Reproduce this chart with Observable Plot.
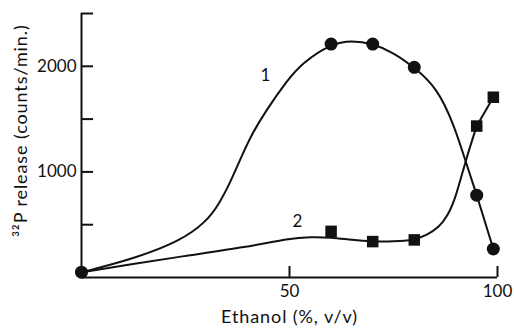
<!DOCTYPE html>
<html>
<head>
<meta charset="utf-8">
<script src="https://cdn.jsdelivr.net/npm/d3@7"></script>
<script src="https://cdn.jsdelivr.net/npm/@observablehq/plot@0.6"></script>
<style>
  html, body { margin: 0; padding: 0; background: #fff; }
  #chart svg { display: block; }
</style>
</head>
<body>
<div id="chart"></div>
<script>
// Measured points (ethanol %, counts/min)
const circleX = [0, 60, 70, 80, 95, 99];
const circleY = [50, 2210, 2210, 1990, 780, 270];
const squareX = [60, 70, 80, 95, 99];
const squareY = [437, 340, 356, 1434, 1707];

// Hand-drawn smooth curves
const curve1X = [0, 12, 24, 30, 33, 36, 38.5, 41, 44, 49.5, 53, 60, 65, 70, 75, 80, 85.5, 89.5, 92.3, 95];
const curve1Y = [50, 170, 349, 530, 690, 920, 1150, 1360, 1560, 1870, 2030, 2215, 2245, 2215, 2130, 1990, 1795, 1450, 1104, 780];
const tail1X = [95, 99];
const tail1Y = [780, 270];
const curve2X = [0, 12, 24, 40, 50, 55, 60, 65, 70, 75, 80, 83, 86, 88, 90, 92.3, 95];
const curve2Y = [50, 125, 200, 290, 370, 385, 380, 355, 340, 340, 356, 400, 480, 580, 760, 1104, 1434];
const tail2X = [95, 99];
const tail2Y = [1434, 1707];

const xTicks = [50, 100];
const yTicks = [500, 1000, 1500, 2000, 2500];
const xTickLabels = [50, 100];
const yTickLabels = [1000, 2000];
const curveLabels = ["1", "2"];
const curveLabelX = [44.2, 51.9];
const curveLabelY = [1910, 530];

const xLabel = "Ethanol (%, v/v)";
const yLabel = "³²P release (counts/min.)";
const yLabelAt = 1390;

const pts = (xs, ys) => xs.map((x, i) => ({x, y: ys[i]}));
const font = "Lato, 'Open Sans', sans-serif";

const chart = Plot.plot({
  width: 514,
  height: 334,
  marginLeft: 81,
  marginRight: 17,
  marginTop: 13,
  marginBottom: 57,
  style: {fontFamily: font, fontSize: "17px", color: "#111", background: "#fff"},
  x: {domain: [0, 100]},
  y: {domain: [0, 2500]},
  marks: [
    Plot.axisX({ticks: xTickLabels, tickFormat: d => String(d), tickSize: 0, tickPadding: 7, label: null, fontSize: 17}),
    Plot.axisY({ticks: yTickLabels, tickFormat: d => String(d), tickSize: 0, tickPadding: 5, label: null, fontSize: 17}),
    Plot.ruleY([0], {stroke: "#111", strokeWidth: 2}),
    Plot.ruleX([0], {stroke: "#111", strokeWidth: 2}),
    Plot.ruleY(yTicks, {y: d => d, x1: 0, x2: 2.9, stroke: "#111", strokeWidth: 2}),
    Plot.ruleX(xTicks, {x: d => d, y1: 0, y2: 104, stroke: "#111", strokeWidth: 2}),
    Plot.line(pts(curve1X, curve1Y), {x: "x", y: "y", curve: "basis", stroke: "#111", strokeWidth: 2}),
    Plot.line(pts(tail1X, tail1Y), {x: "x", y: "y", stroke: "#111", strokeWidth: 2}),
    Plot.line(pts(curve2X, curve2Y), {x: "x", y: "y", curve: "basis", stroke: "#111", strokeWidth: 2}),
    Plot.line(pts(tail2X, tail2Y), {x: "x", y: "y", stroke: "#111", strokeWidth: 2}),
    Plot.dot(pts(circleX, circleY), {x: "x", y: "y", symbol: "circle", r: 6.5, fill: "#111", stroke: "none"}),
    Plot.dot(pts(squareX, squareY), {x: "x", y: "y", symbol: "square", r: 6.5, fill: "#111", stroke: "none"}),
    Plot.text(curveLabels, {x: (d, i) => curveLabelX[i], y: (d, i) => curveLabelY[i], text: d => d, fontSize: 17, fill: "#111"}),
    Plot.text([xLabel], {frameAnchor: "bottom", textAnchor: "middle", dy: 45, text: d => d, fontSize: 18, fill: "#111"}),
    Plot.text([yLabel], {x: 0, y: yLabelAt, textAnchor: "middle", dx: -60, rotate: -90, text: d => d, fontSize: 18, fill: "#111"})
  ]
});
// letter spacing on the axis titles, to match the wide scanned typeface
chart.querySelectorAll("text").forEach(t => {
  if (t.textContent === xLabel || t.textContent === yLabel) t.setAttribute("letter-spacing", "0.9");
});
document.getElementById("chart").appendChild(chart);
</script>
</body>
</html>
